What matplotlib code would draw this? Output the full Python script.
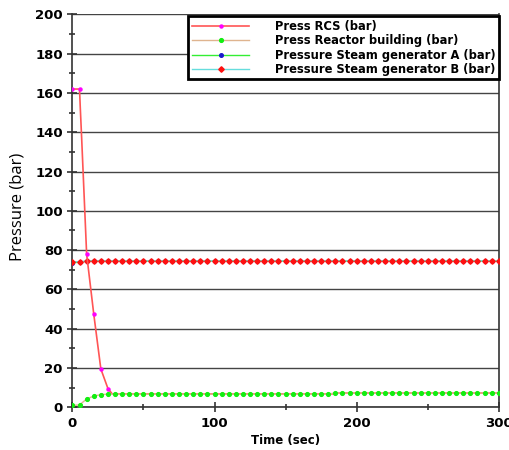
import numpy as np
import matplotlib
matplotlib.use('Agg')
import matplotlib.pyplot as plt
from matplotlib.ticker import MultipleLocator

# time grid of the sampled points (sec)
time = np.arange(0, 305, 5)

# Press RCS: line points, markers only on the first few samples
rcs_t = [0, 5, 5.5, 6.5, 10, 15, 20, 25, 28, 60, 120, 183, 186, 300]
rcs_p = [162, 162, 153, 137, 78, 47.5, 19.5, 9.5, 6.8, 6.8, 6.8, 6.8, 7.3, 7.3]
rcs_marks = [0, 1, 4, 5, 6, 7]

# Press Reactor building (bar)
building = [0.9, 1.2, 4.2, 5.7, 6.4, 6.7, 6.7, 6.7, 6.7, 6.7,
            6.7, 6.7, 6.7, 6.7, 6.7, 6.7, 6.7, 6.7, 6.7, 6.7,
            6.7, 6.7, 6.7, 6.7, 6.7, 6.7, 6.7, 6.7, 6.7, 6.7,
            6.7, 6.7, 6.7, 6.7, 6.7, 6.7, 6.7, 7.3, 7.3, 7.3,
            7.3, 7.3, 7.3, 7.3, 7.3, 7.3, 7.3, 7.3, 7.3, 7.3,
            7.3, 7.3, 7.3, 7.3, 7.3, 7.3, 7.3, 7.3, 7.3, 7.3, 7.3]

# Pressure Steam generator A (bar)
sg_a = [73.5, 73.9, 74.3, 74.4, 74.4, 74.4, 74.4, 74.4, 74.4, 74.4,
        74.4, 74.4, 74.4, 74.4, 74.4, 74.4, 74.4, 74.4, 74.4, 74.4,
        74.4, 74.4, 74.4, 74.4, 74.4, 74.4, 74.4, 74.4, 74.4, 74.4,
        74.4, 74.4, 74.4, 74.4, 74.4, 74.4, 74.4, 74.4, 74.4, 74.4,
        74.4, 74.4, 74.4, 74.4, 74.4, 74.4, 74.4, 74.4, 74.4, 74.4,
        74.4, 74.4, 74.4, 74.4, 74.4, 74.4, 74.4, 74.4, 74.4, 74.4, 74.4]

# Pressure Steam generator B (bar)
sg_b = [74.2, 73.9, 74.5, 74.5, 74.5, 74.5, 74.5, 74.5, 74.5, 74.5,
        74.5, 74.5, 74.5, 74.5, 74.5, 74.5, 74.5, 74.5, 74.5, 74.5,
        74.5, 74.5, 74.5, 74.5, 74.5, 74.5, 74.5, 74.5, 74.5, 74.5,
        74.5, 74.5, 74.5, 74.5, 74.5, 74.5, 74.5, 74.5, 74.5, 74.5,
        74.5, 74.5, 74.5, 74.5, 74.5, 74.5, 74.5, 74.5, 74.5, 74.5,
        74.5, 74.5, 74.5, 74.5, 74.5, 74.5, 74.5, 74.5, 74.5, 74.5, 74.5]

fig = plt.figure(figsize=(5.1, 4.5), dpi=100)
ax = fig.add_axes([0.142, 0.095, 0.836, 0.873])

ax.plot(time, sg_a, color='#33ee33', lw=1, marker='o', ms=2.6,
        mfc='#1a1acc', mec='#1a1acc', label='Pressure Steam generator A (bar)', zorder=3)
ax.plot(time, sg_b, color='#66dddd', lw=1, marker='D', ms=2.8,
        mfc='#ff1010', mec='#ff1010', label='Pressure Steam generator B (bar)', zorder=4)
ax.plot(time, building, color='#dfb48f', lw=1, marker='o', ms=2.7,
        mfc='#11ee11', mec='#11ee11', label='Press Reactor building (bar)', zorder=5)
ax.plot(rcs_t, rcs_p, color='#ff5555', lw=1.2, marker='o', ms=2.2,
        mfc='#ff00ff', mec='#ff00ff', markevery=rcs_marks, label='Press RCS (bar)', zorder=4.5)

ax.set_xlim(0, 300)
ax.set_ylim(0, 200)
ax.xaxis.set_major_locator(MultipleLocator(100))
ax.xaxis.set_minor_locator(MultipleLocator(50))
ax.yaxis.set_major_locator(MultipleLocator(20))
ax.yaxis.set_minor_locator(MultipleLocator(10))
ax.grid(axis='y', which='major', color='#444444', lw=1)
ax.set_axisbelow(True)

for s in ['left', 'bottom', 'right']:
    ax.spines[s].set_color('#333333')
    ax.spines[s].set_linewidth(1.2)
ax.spines['top'].set_visible(False)

ax.tick_params(which='both', direction='inout', color='#333333', width=1.2)
ax.tick_params(which='major', length=7)
ax.tick_params(which='minor', length=5)
for lab in ax.get_xticklabels() + ax.get_yticklabels():
    lab.set_fontweight('bold')
    lab.set_fontsize(9.5)

ax.set_xlabel('Time (sec)', fontsize=8.5, fontweight='bold', labelpad=3)
fig.text(0.035, 0.54, 'Pressure (bar)', rotation=90, ha='center', va='center',
         fontsize=12, family='Open Sans')

h, l = ax.get_legend_handles_labels()
order = [3, 2, 0, 1]
leg = ax.legend([h[i] for i in order], [l[i] for i in order],
                loc='upper right', bbox_to_anchor=(1.0, 0.995), numpoints=1,
                prop={'weight': 'bold', 'size': 8.3}, fancybox=False,
                framealpha=1, edgecolor='black', handlelength=5.0,
                borderpad=0.3, labelspacing=0.12, handletextpad=2.2,
                borderaxespad=0)
leg.get_frame().set_linewidth(2)
for lh in leg.get_lines():
    lh.set_markevery([1])

fig.savefig('out.png', dpi=100)
